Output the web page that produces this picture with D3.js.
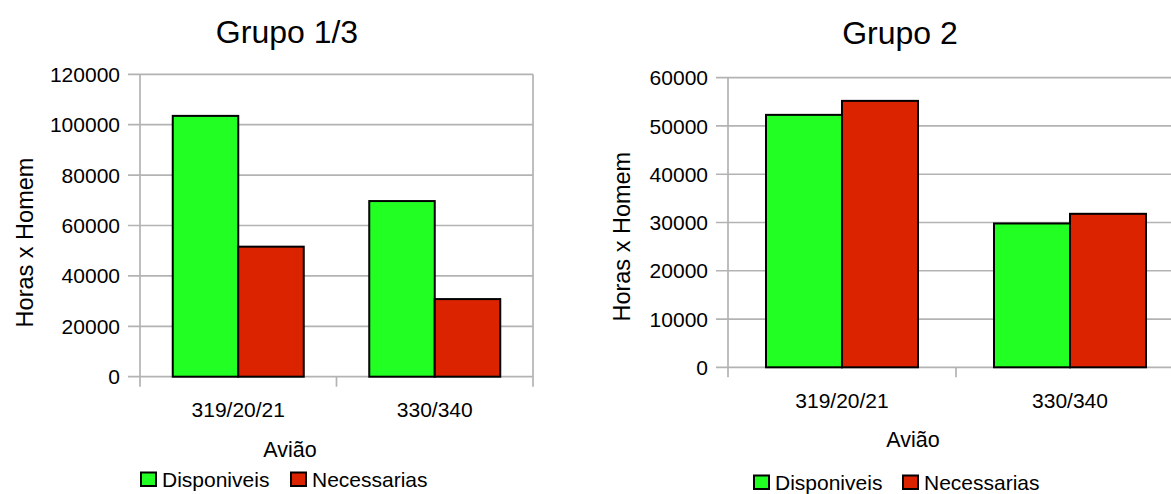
<!DOCTYPE html>
<html>
<head>
<meta charset="utf-8">
<script src="https://cdn.jsdelivr.net/npm/d3@7/dist/d3.min.js"></script>
<style>
  html, body { margin: 0; padding: 0; background: #fff; }
  svg { display: block; font-family: "Liberation Sans", Arial, sans-serif; }
</style>
</head>
<body>
<svg id="chart" width="1171" height="494"></svg>
<script>
// Aircraft groups and series
const categories = ["319/20/21", "330/340"];
const seriesNames = ["Disponiveis", "Necessarias"];
const seriesColors = ["#22ff22", "#dc2300"];

// Man-hours per aircraft type
const grupo13Disponiveis = [103500, 69700];
const grupo13Necessarias = [51600, 30800];
const grupo2Disponiveis = [52300, 29800];
const grupo2Necessarias = [55200, 31800];

// Y axis ticks
const grupo13Ticks = [0, 20000, 40000, 60000, 80000, 100000, 120000];
const grupo2Ticks = [0, 10000, 20000, 30000, 40000, 50000, 60000];

const svg = d3.select("#chart");
const gridColor = "#b3b3b3";

function drawPanel(cfg) {
  const g = svg.append("g");
  const data = categories.map((c, i) => ({
    cat: c,
    values: cfg.series.map((s, j) => ({ name: seriesNames[j], value: s[i], color: seriesColors[j] }))
  }));

  const x0 = d3.scaleBand().domain(categories).range([cfg.left, cfg.right]).padding(0);
  const bw = x0.bandwidth();
  const x1 = d3.scaleBand().domain(seriesNames).range([bw / 6, bw * 5 / 6]).padding(0);
  const y = d3.scaleLinear().domain([0, d3.max(cfg.ticks)]).range([cfg.bottom, cfg.top]);

  // horizontal grid lines with outward ticks on the left
  g.append("g").selectAll("line").data(cfg.ticks).join("line")
    .attr("x1", cfg.left - 12).attr("x2", cfg.right)
    .attr("y1", d => y(d)).attr("y2", d => y(d))
    .attr("stroke", gridColor).attr("stroke-width", 1.7);

  // y axis labels
  g.append("g").selectAll("text").data(cfg.ticks).join("text")
    .attr("x", cfg.left - 20).attr("y", d => y(d)).attr("dy", "0.36em")
    .attr("text-anchor", "end").attr("font-size", 21).attr("fill", "#000")
    .text(d => d);

  // vertical axis and category boundary ticks
  g.append("line")
    .attr("x1", cfg.left).attr("x2", cfg.left)
    .attr("y1", cfg.top).attr("y2", cfg.bottom + 10)
    .attr("stroke", gridColor).attr("stroke-width", 1.7);
  g.append("line")
    .attr("x1", cfg.right).attr("x2", cfg.right)
    .attr("y1", cfg.top).attr("y2", cfg.bottom + 10)
    .attr("stroke", gridColor).attr("stroke-width", 1.7);
  categories.slice(1).forEach(c => {
    g.append("line")
      .attr("x1", x0(c)).attr("x2", x0(c))
      .attr("y1", cfg.bottom).attr("y2", cfg.bottom + 10)
      .attr("stroke", gridColor).attr("stroke-width", 1.7);
  });

  // bars
  const groups = g.append("g").selectAll("g").data(data).join("g")
    .attr("transform", d => `translate(${x0(d.cat)},0)`);
  groups.selectAll("rect").data(d => d.values).join("rect")
    .attr("x", d => x1(d.name))
    .attr("y", d => y(d.value))
    .attr("width", x1.bandwidth())
    .attr("height", d => y(0) - y(d.value))
    .attr("fill", d => d.color)
    .attr("stroke", "#000").attr("stroke-width", 2);

  // category labels
  g.append("g").selectAll("text").data(categories).join("text")
    .attr("x", d => x0(d) + bw / 2).attr("y", cfg.catY)
    .attr("text-anchor", "middle").attr("font-size", 21)
    .text(d => d);

  // title
  g.append("text")
    .attr("x", cfg.titleX).attr("y", cfg.titleY)
    .attr("text-anchor", "middle").attr("font-size", 32)
    .text(cfg.title);

  // axis titles
  g.append("text")
    .attr("transform", `translate(${cfg.yTitleX},${cfg.yTitleY}) rotate(-90)`)
    .attr("text-anchor", "middle").attr("font-size", 23.5)
    .text("Horas x Homem");
  g.append("text")
    .attr("x", cfg.xTitleX).attr("y", cfg.xTitleY)
    .attr("text-anchor", "middle").attr("font-size", 21.5)
    .text("Avião");

  // legend
  const leg = g.append("g");
  const items = [
    { name: seriesNames[0], color: seriesColors[0], x: cfg.legendX[0] },
    { name: seriesNames[1], color: seriesColors[1], x: cfg.legendX[1] }
  ];
  items.forEach(it => {
    leg.append("rect")
      .attr("x", it.x).attr("y", cfg.legendY - 14)
      .attr("width", 15).attr("height", 13.5)
      .attr("fill", it.color).attr("stroke", "#000").attr("stroke-width", 2);
    leg.append("text")
      .attr("x", it.x + 21).attr("y", cfg.legendY)
      .attr("font-size", 21).text(it.name);
  });
}

drawPanel({
  title: "Grupo 1/3",
  series: [grupo13Disponiveis, grupo13Necessarias],
  ticks: grupo13Ticks,
  left: 140, right: 533, top: 74.3, bottom: 376.7,
  catY: 416.5,
  titleX: 287, titleY: 42.5,
  yTitleX: 33, yTitleY: 242.5,
  xTitleX: 290, xTitleY: 456.5,
  legendX: [141, 291], legendY: 486.5
});

drawPanel({
  title: "Grupo 2",
  series: [grupo2Disponiveis, grupo2Necessarias],
  ticks: grupo2Ticks,
  left: 728, right: 1184, top: 77.7, bottom: 367.3,
  catY: 408.3,
  titleX: 900, titleY: 44.3,
  yTitleX: 630, yTitleY: 236.7,
  xTitleX: 913, xTitleY: 446.7,
  legendX: [754, 903], legendY: 489.5
});
</script>
</body>
</html>
